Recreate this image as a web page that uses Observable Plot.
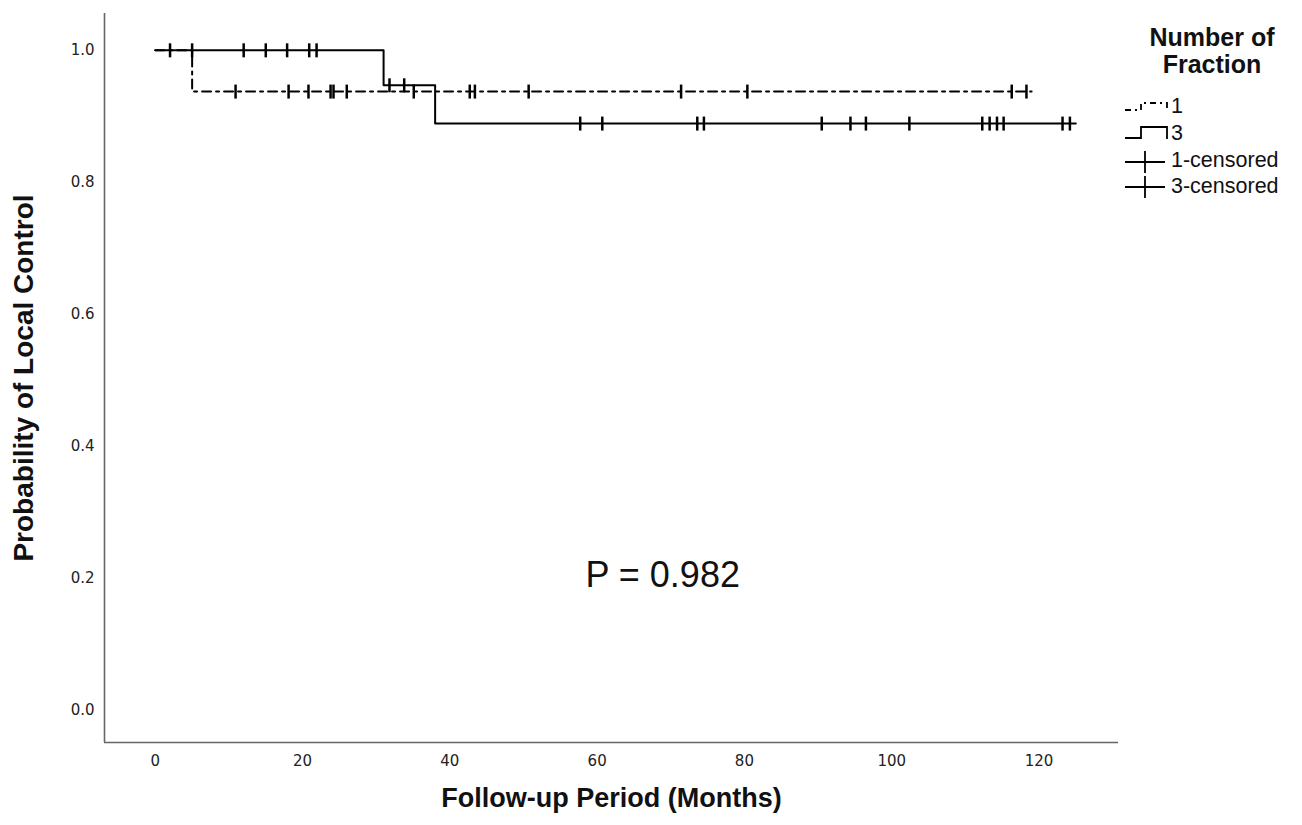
<!DOCTYPE html>
<html><head><meta charset="utf-8">
<script src="https://cdn.jsdelivr.net/npm/d3@7"></script>
<script src="https://cdn.jsdelivr.net/npm/@observablehq/plot@0.6"></script>
<style>
body{margin:0;background:#fff;}
#wrap{position:relative;width:1302px;height:825px;}
#wrap > svg{position:absolute;left:0;top:0;}
</style></head><body><div id="wrap"></div>
<script>
// ---- data ----
const xTicks = [0, 20, 40, 60, 80, 100, 120];
const yTicks = [0, 0.2, 0.4, 0.6, 0.8, 1.0];

// Fraction 1 (dashed) Kaplan-Meier steps
const f1Times = [0, 5, 119];
const f1Surv  = [1, 0.9375, 0.9375];
// Fraction 3 (solid)
const f3Times = [0, 31, 38, 125];
const f3Surv  = [1, 0.947, 0.889, 0.889];

// censored observations
const f1CensTimes = [10.9, 18.1, 20.8, 23.8, 24.2, 26.0, 35.1, 42.7, 43.4, 50.7, 71.4, 80.4, 116.3, 118.3];
const f1CensSurv  = [0.9375, 0.9375, 0.9375, 0.9375, 0.9375, 0.9375, 0.9375, 0.9375, 0.9375, 0.9375, 0.9375, 0.9375, 0.9375, 0.9375];
const f3CensTimes = [2.0, 5.0, 12.0, 15.0, 17.9, 20.9, 21.9, 31.8, 33.8, 57.7, 60.7, 73.6, 74.5, 90.5, 94.4, 96.5, 102.4, 112.3, 113.3, 114.3, 115.2, 123.2, 124.2];
const f3CensSurv  = [1, 1, 1, 1, 1, 1, 1, 0.947, 0.947, 0.889, 0.889, 0.889, 0.889, 0.889, 0.889, 0.889, 0.889, 0.889, 0.889, 0.889, 0.889, 0.889, 0.889];

const annotationText = ["P = 0.982"];
const annotationX = [68.9];
const annotationY = [0.205];

const xTitle = "Follow-up Period (Months)";
const yTitle = "Probability of Local Control";
const legendTitle = ["Number of", "Fraction"];
const legendLabels = ["1", "3", "1-censored", "3-censored"];

// ---- build ----
const xDomain = [-6.9, 130.8];
const yDomain = [-0.0488, 1.0558];

const line1 = f1Times.map((t, i) => ({t, s: f1Surv[i]}));
const line3 = f3Times.map((t, i) => ({t, s: f3Surv[i]}));
const cens1 = f1CensTimes.map((t, i) => ({t, s: f1CensSurv[i]}));
const cens3 = f3CensTimes.map((t, i) => ({t, s: f3CensSurv[i]}));
const annot = annotationText.map((text, i) => ({text, x: annotationX[i], y: annotationY[i]}));

const vbar = {draw(ctx) { ctx.moveTo(0, -7); ctx.lineTo(0, 7); }};
const dash = "9,5,3,5";
const ff = "'Liberation Sans', Arial, sans-serif";

const chart = Plot.plot({
  width: 1302,
  height: 825,
  marginLeft: 104,
  marginRight: 184,
  marginTop: 13,
  marginBottom: 83,
  style: {background: "white", fontFamily: "'DejaVu Sans', sans-serif", color: "#222"},
  x: {domain: xDomain},
  y: {domain: yDomain},
  marks: [
    Plot.ruleX([xDomain[0]], {stroke: "#666", strokeWidth: 1.6}),
    Plot.ruleY([yDomain[0]], {stroke: "#666", strokeWidth: 1.6}),
    Plot.axisX({ticks: xTicks, tickSize: 0, tickPadding: 13, fontSize: 15, label: null, tickFormat: d => String(d)}),
    Plot.axisY({ticks: yTicks, tickSize: 0, tickPadding: 10, fontSize: 15, label: null, tickFormat: d => d.toFixed(1)}),
    Plot.line(line1, {x: "t", y: "s", curve: "step-after", stroke: "black", strokeWidth: 2, strokeDasharray: dash}),
    Plot.line(line3, {x: "t", y: "s", curve: "step-after", stroke: "black", strokeWidth: 2}),
    Plot.dot(cens1, {x: "t", y: "s", symbol: vbar, stroke: "black", fill: "none", strokeWidth: 2.5}),
    Plot.dot(cens3, {x: "t", y: "s", symbol: vbar, stroke: "black", fill: "none", strokeWidth: 2.5}),
    Plot.text(annot, {x: "x", y: "y", text: "text", fontSize: 36, fontFamily: ff, fill: "#111"}),
    Plot.text([xTitle], {text: d => d, frameAnchor: "bottom", textAnchor: "middle", dy: 64, fontSize: 27, fontWeight: "bold", fontFamily: ff, fill: "#111"}),
    Plot.text([yTitle], {text: d => d, frameAnchor: "left", textAnchor: "middle", dx: -80, rotate: -90, fontSize: 28, fontWeight: "bold", fontFamily: ff, fill: "#111"})
  ]
});
document.getElementById("wrap").appendChild(chart);

// ---- legend (overlay) ----
const svg = d3.select("#wrap").append("svg").attr("width", 1302).attr("height", 825)
  .style("pointer-events", "none");
svg.selectAll("text.lt").data(legendTitle).join("text")
  .attr("x", 1212).attr("y", (d, i) => 46 + i * 27)
  .attr("text-anchor", "middle").attr("font-family", ff).attr("font-weight", "bold")
  .attr("font-size", 25).attr("fill", "#111").text(d => d);
const itemY = [113, 140, 167, 193];
svg.selectAll("text.li").data(legendLabels).join("text")
  .attr("x", 1171).attr("y", (d, i) => itemY[i])
  .attr("font-family", ff).attr("font-size", 21.5).attr("fill", "#111").text(d => d);
const g = svg.append("g").attr("fill", "none").attr("stroke", "black").attr("stroke-width", 1.8);
g.append("path").attr("d", "M1125,110H1141V103H1167V110").attr("stroke-dasharray", "6,4,2,4");
g.append("path").attr("d", "M1125,138H1141V127H1167V139");
g.append("path").attr("d", "M1125,162H1165M1145,151V173");
g.append("path").attr("d", "M1125,187H1165M1145,176V198");
</script>
</body></html>
